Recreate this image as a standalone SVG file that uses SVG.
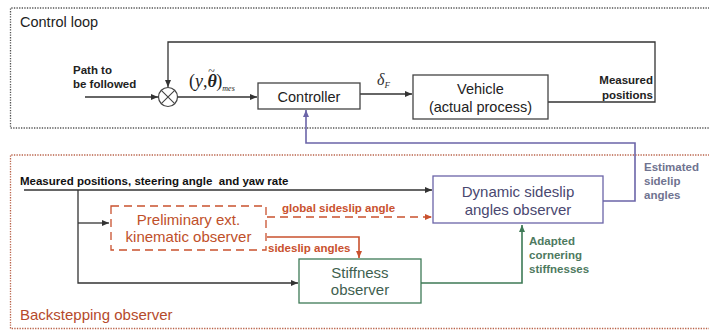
<svg xmlns="http://www.w3.org/2000/svg" width="709" height="332" viewBox="0 0 709 332">
<defs>
<style>
text{font-family:"Liberation Sans",Arial,sans-serif}
text.serif{font-family:"Liberation Serif","Times New Roman",serif}
.lbl{font-size:11.5px;font-weight:bold}
.box{fill:#fff;stroke-width:1.3}
.k{stroke:#333;fill:none;stroke-width:1.3}
.o{stroke:#c9512e;fill:none;stroke-width:1.6}
.b{stroke:#6b64a8;fill:none;stroke-width:1.6}
.g{stroke:#3e7a56;fill:none;stroke-width:1.6}
</style>
<marker id="ak" markerWidth="8" markerHeight="8" refX="7" refY="4" orient="auto" markerUnits="userSpaceOnUse"><path d="M0,1 L7,4 L0,7 Z" fill="#333"/></marker>
<marker id="ao" markerWidth="8" markerHeight="8" refX="7" refY="4" orient="auto" markerUnits="userSpaceOnUse"><path d="M0,1 L7,4 L0,7 Z" fill="#c9512e"/></marker>
<marker id="ab" markerWidth="8" markerHeight="8" refX="7" refY="4" orient="auto" markerUnits="userSpaceOnUse"><path d="M0,1 L7,4 L0,7 Z" fill="#6b64a8"/></marker>
<marker id="ag" markerWidth="8" markerHeight="8" refX="7" refY="4" orient="auto" markerUnits="userSpaceOnUse"><path d="M0,1 L7,4 L0,7 Z" fill="#3e7a56"/></marker>
</defs>
<rect width="709" height="332" fill="#fff"/>

<g id="control-loop-frame">
<path d="M712,8 H10.5 V128 H712" fill="none" stroke="#555" stroke-width="1.3" stroke-dasharray="1.3,1.3"/>
<text x="20" y="27" font-size="14.5" fill="#222">Control loop</text>
</g>
<g id="backstepping-frame">
<path d="M712,155 H10.5 V328.5 H712" fill="none" stroke="#b9634a" stroke-width="1.3" stroke-dasharray="1.3,1.3"/>
<text x="20" y="320" font-size="15" fill="#b54a2c">Backstepping observer</text>
</g>

<g id="connectors">
<line class="k" x1="85" y1="97" x2="158" y2="97" marker-end="url(#ak)"/>
<line class="k" x1="178" y1="97" x2="257" y2="97" marker-end="url(#ak)"/>
<line class="k" x1="360" y1="94" x2="412" y2="94" marker-end="url(#ak)"/>
<polyline class="k" points="548,102 655,102 655,42 168,42 168,87" marker-end="url(#ak)"/>
<polyline class="b" points="603,201 635,201 635,143 306,143 306,110" marker-end="url(#ab)"/>
<line class="k" x1="24" y1="190" x2="432" y2="190" marker-end="url(#ak)"/>
<polyline class="k" points="78,190 78,283 298,283" marker-end="url(#ak)"/>
<line class="k" x1="78" y1="223" x2="109" y2="223" marker-end="url(#ak)"/>
<line class="o" x1="267" y1="217" x2="432" y2="217" stroke-dasharray="8,5" marker-end="url(#ao)"/>
<polyline class="o" points="267,237 359,237 359,258" marker-end="url(#ao)"/>
<polyline class="g" points="421,283 522,283 522,225" marker-end="url(#ag)"/>
</g>

<g id="summer">
<circle cx="168" cy="97" r="9.5" fill="#fff" stroke="#444" stroke-width="1.2"/>
<path d="M161.3,90.3 L174.7,103.7 M174.7,90.3 L161.3,103.7" stroke="#444" stroke-width="1.1"/>
</g>

<g id="labels-control">
<text class="lbl" x="73" y="74" fill="#222">Path to</text>
<text class="lbl" x="73" y="88" fill="#222">be followed</text>
<text class="serif" x="189" y="87" font-size="18" fill="#222">(<tspan font-style="italic">y</tspan>,<tspan font-style="italic" font-weight="bold">θ</tspan><tspan font-size="12" dx="-8.5" dy="-12">~</tspan><tspan dx="1.5" dy="12">)</tspan><tspan font-size="8" font-style="italic" dy="4">mes</tspan></text>
<text class="serif" x="377" y="85" font-style="italic" font-size="16" fill="#333">δ<tspan font-size="9" dy="3">F</tspan></text>
<text class="lbl" x="653" y="84" text-anchor="end" fill="#222">Measured</text>
<text class="lbl" x="653" y="99" text-anchor="end" fill="#222">positions</text>
</g>

<g id="controller">
<rect class="box" x="258" y="83" width="102" height="26" stroke="#444"/>
<text x="309" y="102" font-size="14.5" text-anchor="middle" fill="#222">Controller</text>
</g>
<g id="vehicle">
<rect class="box" x="413" y="75" width="135" height="44" stroke="#444"/>
<text x="480.5" y="94" font-size="14.5" text-anchor="middle" fill="#222">Vehicle</text>
<text x="480.5" y="112" font-size="14.5" text-anchor="middle" fill="#222">(actual process)</text>
</g>

<g id="labels-observer">
<text class="lbl" x="20" y="185" fill="#111" font-size="12" xml:space="preserve">Measured positions, steering angle  and yaw rate</text>
<text class="lbl" x="282" y="212" fill="#c9512e">global sideslip angle</text>
<text class="lbl" x="268" y="252" fill="#c9512e">sideslip angles</text>
<text class="lbl" x="529" y="245" fill="#4e7a5f">Adapted</text>
<text class="lbl" x="529" y="259" fill="#4e7a5f">cornering</text>
<text class="lbl" x="529" y="273" fill="#4e7a5f">stiffnesses</text>
<text class="lbl" x="644" y="171" fill="#6f7390" font-size="12.5">Estimated</text>
<text class="lbl" x="644" y="185" fill="#6f7390" font-size="12.5">sidelip</text>
<text class="lbl" x="644" y="199" fill="#6f7390" font-size="12.5">angles</text>
</g>

<g id="preliminary">
<rect class="box" x="111" y="206" width="155" height="44" stroke="#c9512e" stroke-width="1.6" stroke-dasharray="8,5"/>
<text x="188.5" y="225" font-size="15" text-anchor="middle" fill="#c0502a">Preliminary ext.</text>
<text x="188.5" y="242" font-size="15" text-anchor="middle" fill="#c0502a">kinematic observer</text>
</g>
<g id="stiffness">
<rect class="box" x="299" y="259" width="122" height="44" stroke="#3e7a56" stroke-width="1.6"/>
<text x="360" y="278" font-size="15" text-anchor="middle" fill="#3f5f4f">Stiffness</text>
<text x="360" y="295" font-size="15" text-anchor="middle" fill="#3f5f4f">observer</text>
</g>
<g id="dynamic">
<rect class="box" x="433" y="176" width="170" height="47" stroke="#6b64a8" stroke-width="1.6"/>
<text x="518" y="197" font-size="15" text-anchor="middle" fill="#4a4870">Dynamic sideslip</text>
<text x="518" y="215" font-size="15" text-anchor="middle" fill="#4a4870">angles observer</text>
</g>
</svg>
